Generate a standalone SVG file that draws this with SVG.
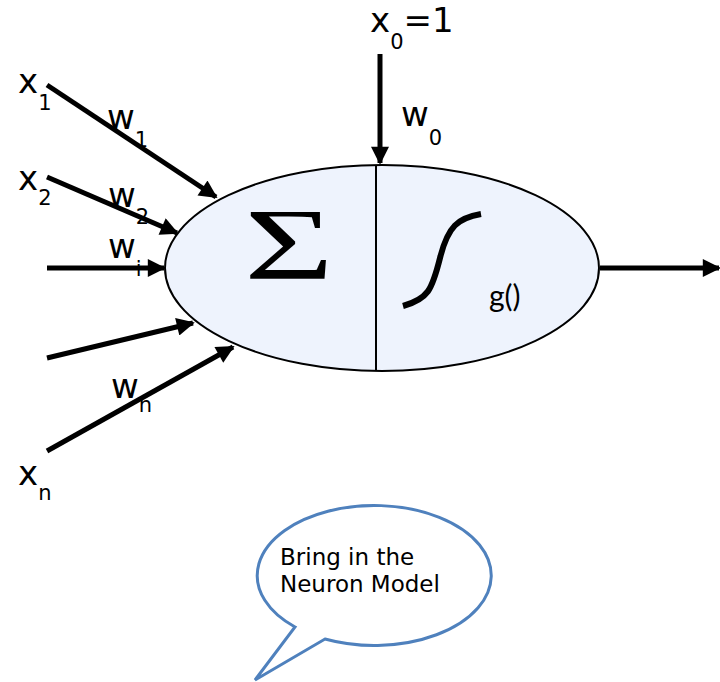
<svg xmlns="http://www.w3.org/2000/svg" width="720" height="682" viewBox="0 0 720 682">
<defs>
<style>
.lbl{font-family:"DejaVu Sans","Liberation Sans",sans-serif;fill:#000}
.big{font-size:34px}
.sub{font-size:21px}
.wire{stroke:#000;stroke-width:5;fill:none;marker-end:url(#ah)}
</style>
<marker id="ah" viewBox="0 0 10 10" refX="9" refY="5" markerWidth="4.2" markerHeight="3.6" orient="auto" markerUnits="strokeWidth">
<path d="M0,0 L10,5 L0,10 Z" fill="#000"/>
</marker>
</defs>
<rect width="720" height="682" fill="#fff"/>
<g id="connectors">
<line class="wire" x1="47" y1="85" x2="216" y2="197"/>
<line class="wire" x1="47" y1="177" x2="177" y2="233"/>
<line class="wire" x1="47" y1="268" x2="164" y2="268"/>
<line class="wire" x1="47" y1="358" x2="193" y2="323"/>
<line class="wire" x1="47" y1="451" x2="233" y2="347"/>
<line class="wire" x1="380" y1="54" x2="380" y2="163"/>
<line class="wire" x1="600" y1="268" x2="719" y2="268"/>
</g>
<g id="neuron">
<ellipse cx="382" cy="268" rx="217" ry="103" fill="#eef3fd" stroke="#000" stroke-width="2"/>
<line x1="376" y1="165" x2="376" y2="371" stroke="#000" stroke-width="2"/>
<text transform="translate(289,279) scale(1.6,1.05)" text-anchor="middle" font-family="'Liberation Serif','DejaVu Serif',serif" font-size="96">Σ</text>
<path d="M403,306 C428,299 432,290 440,258 C448,226 458,218 481,214" stroke="#000" stroke-width="6" fill="none"/>
<text x="489" y="307" font-family="Lato,'Liberation Sans',sans-serif" font-size="30">g()</text>
</g>
<g id="labels">
<text class="lbl" x="18" y="93"><tspan class="big">x</tspan><tspan class="sub" dy="17">1</tspan></text>
<text class="lbl" x="18" y="190"><tspan class="big">x</tspan><tspan class="sub" dy="15">2</tspan></text>
<text class="lbl" x="18" y="485"><tspan class="big">x</tspan><tspan class="sub" dy="15">n</tspan></text>
<text class="lbl" x="370" y="32"><tspan class="big">x</tspan><tspan class="sub" dy="17">0</tspan><tspan class="big" dy="-17">=1</tspan></text>
<text class="lbl" x="107" y="129"><tspan class="big">w</tspan><tspan class="sub" dy="18">1</tspan></text>
<text class="lbl" x="108" y="207"><tspan class="big">w</tspan><tspan class="sub" dy="17">2</tspan></text>
<text class="lbl" x="108" y="258"><tspan class="big">w</tspan><tspan class="sub" dy="18">i</tspan></text>
<text class="lbl" x="111" y="398"><tspan class="big">w</tspan><tspan class="sub" dy="14">n</tspan></text>
<text class="lbl" x="401" y="126"><tspan class="big">w</tspan><tspan class="sub" dy="19">0</tspan></text>
</g>
<g id="callout">
<path d="M295,627 A117,70 0 1 1 325,639 L255,680 Z" fill="#fff" stroke="#4f81bd" stroke-width="3" stroke-linejoin="miter"/>
<text x="280" y="565" font-family="'DejaVu Sans',sans-serif" font-size="23">Bring in the</text>
<text x="280" y="592" font-family="'DejaVu Sans',sans-serif" font-size="23">Neuron Model</text>
</g>
</svg>
